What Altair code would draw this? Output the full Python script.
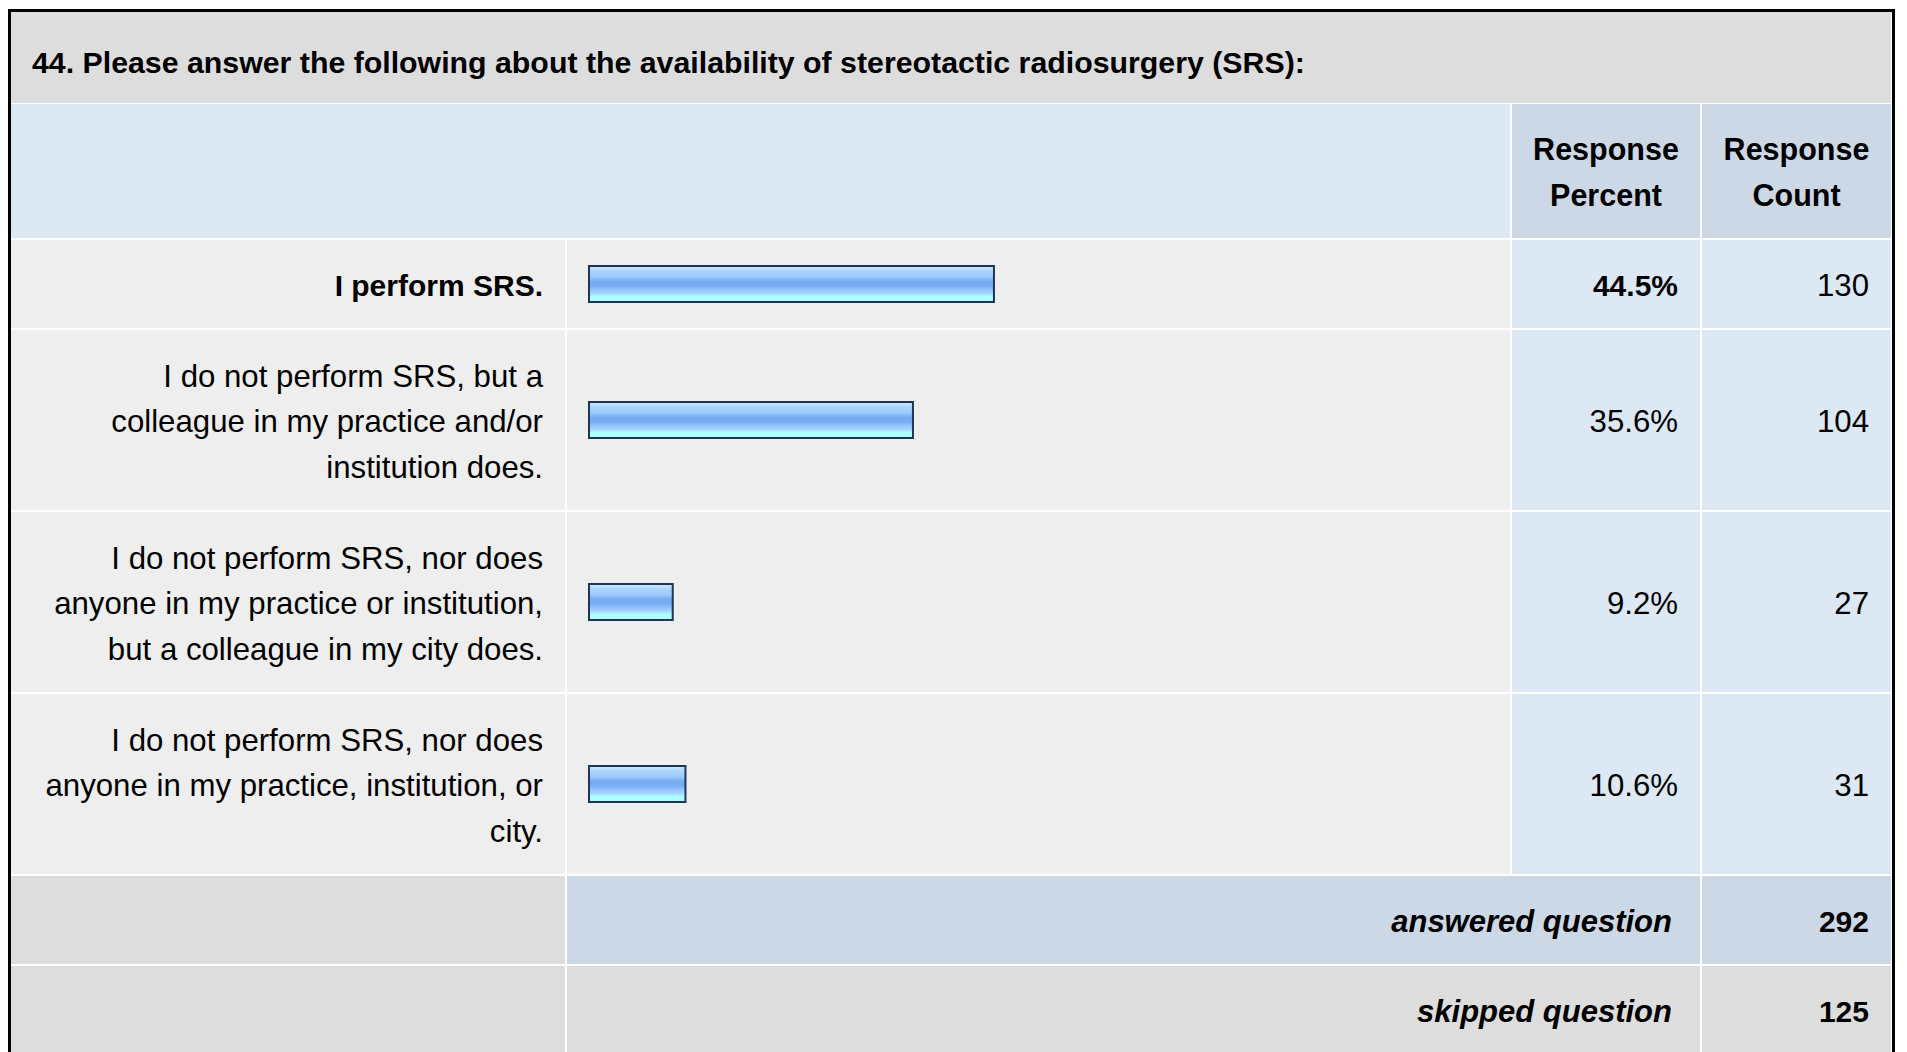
import altair as alt
import pandas as pd

# ---------------- data ----------------
TITLE = "44. Please answer the following about the availability of stereotactic radiosurgery (SRS):"
HEADER_LABELS = [["Response", "Percent"], ["Response", "Count"]]
ANSWER_LINES = [
    ["I perform SRS."],
    ["I do not perform SRS, but a", "colleague in my practice and/or", "institution does."],
    ["I do not perform SRS, nor does", "anyone in my practice or institution,", "but a colleague in my city does."],
    ["I do not perform SRS, nor does", "anyone in my practice, institution, or", "city."],
]
PERCENTS = [44.5, 35.6, 9.2, 10.6]
COUNTS = [130, 104, 27, 31]
SUMMARY_LABELS = ["answered question", "skipped question"]
SUMMARY_COUNTS = [292, 125]

# ---------------- layout / style ----------------
W, H = 1891, 1044
FONT = "Liberation Sans"
FS = 31.2          # regular body text
FS_B = 30          # bold body text
FS_BI = 31         # bold italic summary text
FS_HEAD = 30.5
TITLE_FS = 30.3
LINE_H = 46
TEXT_LH = 45.5
ROW_PAD = 21
BORDER = 3
TOP = 1
GAP = 2
COL_W = [554, 943, 188, 189]
TITLE_H = 91
BAR_H = 36
BAR_PAD = 21
BAR_FULL = 910          # pixels spanned by 100 %
PAD_R = 22
MID_SHIFT = 3

BG_TITLE = "#dddddd"
BG_HEAD = "#dde8f5"
BG_HEAD_DARK = "#ccd8e6"
BG_ROW = "#eeeeee"
BG_VAL = "#dde8f5"
BG_SUM = "#ccd8e6"
BAR_STROKE = "#1d3557"

# columns
x_edges = []
x = BORDER
for w in COL_W:
    x_edges.append((x, x + w))
    x += w + GAP
TABLE_R = x_edges[-1][1]
c0, c1, c2, c3 = x_edges

# rows
y = TOP + BORDER
title_y = (y, y + TITLE_H)
y += TITLE_H + 1
head_h = 2 * ROW_PAD + LINE_H * 2
head_y = (y, y + head_h)
y += head_h + GAP
ans_y = []
for lines in ANSWER_LINES:
    h = 2 * ROW_PAD + LINE_H * len(lines)
    ans_y.append((y, y + h))
    y += h + GAP
sum_y = []
for _ in SUMMARY_LABELS:
    h = 2 * ROW_PAD + LINE_H
    sum_y.append((y, y + h))
    y += h + GAP

# ---------------- cell table ----------------
cells = []


def add(xa, xb, yy, c):
    cells.append(dict(x0=xa, x1=xb, y0=yy[0], y1=yy[1], fill=c))


add(c0[0], c3[1], title_y, BG_TITLE)
add(c0[0], c1[1], head_y, BG_HEAD)
add(c2[0], c2[1], head_y, BG_HEAD_DARK)
add(c3[0], c3[1], head_y, BG_HEAD_DARK)
for yy in ans_y:
    add(c0[0], c0[1], yy, BG_ROW)
    add(c1[0], c1[1], yy, BG_ROW)
    add(c2[0], c2[1], yy, BG_VAL)
    add(c3[0], c3[1], yy, BG_VAL)
for i, yy in enumerate(sum_y):
    mid = BG_SUM if i == 0 else BG_TITLE
    add(c0[0], c0[1], yy, BG_TITLE)
    add(c1[0], c2[1], yy, mid)
    add(c3[0], c3[1], yy, mid)
cells_df = pd.DataFrame(cells)

XPX = alt.Scale(domain=[0, W], range=[0, W], nice=False, zero=False)
YPX = alt.Scale(domain=[0, H], range=[0, H], nice=False, zero=False)

frame_df = pd.DataFrame([
    dict(x0=0, x1=TABLE_R + 4, y0=TOP, y1=H + 60, fill="#000000"),
    dict(x0=BORDER, x1=TABLE_R + 1, y0=TOP + BORDER, y1=H + 60, fill="#ffffff"),
])

frame = alt.Chart(frame_df).mark_rect().encode(
    x=alt.X("x0:Q", scale=XPX, axis=None),
    x2="x1:Q",
    y=alt.Y("y0:Q", scale=YPX, axis=None),
    y2="y1:Q",
    fill=alt.Fill("fill:N", scale=None),
)

cell_layer = alt.Chart(cells_df).mark_rect().encode(
    x=alt.X("x0:Q", scale=XPX, axis=None),
    x2="x1:Q",
    y=alt.Y("y0:Q", scale=YPX, axis=None),
    y2="y1:Q",
    fill=alt.Fill("fill:N", scale=None),
)

# ---------------- bars ----------------
bars_df = pd.DataFrame({
    "pct": PERCENTS,
    "y0": [(a + b) / 2 - BAR_H / 2 for a, b in ans_y],
    "y1": [(a + b) / 2 + BAR_H / 2 for a, b in ans_y],
})
grad = alt.Gradient(
    gradient="linear", x1=0, x2=0, y1=0, y2=1,
    stops=[
        alt.GradientStop(color="#d2e9ff", offset=0.0),
        alt.GradientStop(color="#aad4ff", offset=0.15),
        alt.GradientStop(color="#9ccafd", offset=0.3),
        alt.GradientStop(color="#78acf2", offset=0.42),
        alt.GradientStop(color="#78acf2", offset=0.56),
        alt.GradientStop(color="#8ec1fd", offset=0.64),
        alt.GradientStop(color="#a6d4ff", offset=0.76),
        alt.GradientStop(color="#adffff", offset=0.84),
        alt.GradientStop(color="#adffff", offset=1.0),
    ],
)
bar_x0 = c1[0] + BAR_PAD + 1
bars = alt.Chart(bars_df).mark_rect(fill=grad, stroke=BAR_STROKE, strokeWidth=2).encode(
    x=alt.X("pct:Q", scale=alt.Scale(domain=[0, 100], range=[bar_x0, bar_x0 + BAR_FULL], nice=False), axis=None),
    x2=alt.datum(0),
    y=alt.Y("y0:Q", scale=YPX, axis=None),
    y2="y1:Q",
)


# ---------------- text ----------------
def first_line_y(yy, n):
    return (yy[0] + yy[1]) / 2 - (n - 1) * TEXT_LH / 2 + MID_SHIFT


title_df = pd.DataFrame({"t": [TITLE], "y": [title_y[0] + 60.5]})
title = alt.Chart(title_df).mark_text(
    align="left", baseline="alphabetic", font=FONT, fontSize=TITLE_FS, fontWeight="bold", color="#000"
).encode(x=alt.value(c0[0] + 21), y=alt.Y("y:Q", scale=YPX, axis=None), text="t:N")

head_df = pd.DataFrame({
    "t": ["\n".join(h) for h in HEADER_LABELS],
    "x": [(c2[0] + c2[1]) / 2, (c3[0] + c3[1]) / 2],
    "y": [first_line_y(head_y, 2)] * 2,
})
headers = alt.Chart(head_df).mark_text(
    align="center", baseline="middle", font=FONT, fontSize=FS_HEAD, fontWeight="bold",
    lineBreak="\n", lineHeight=TEXT_LH, color="#000"
).encode(x=alt.X("x:Q", scale=XPX, axis=None), y=alt.Y("y:Q", scale=YPX, axis=None), text="t:N")

top_idx = PERCENTS.index(max(PERCENTS))
lab_df = pd.DataFrame({
    "t": ["\n".join(l) for l in ANSWER_LINES],
    "y": [first_line_y(yy, len(l)) for yy, l in zip(ans_y, ANSWER_LINES)],
    "ymid": [first_line_y(yy, 1) for yy in ans_y],
    "bold": [i == top_idx for i in range(len(ANSWER_LINES))],
    "pct": [f"{p:.1f}%" for p in PERCENTS],
    "cnt": [str(c) for c in COUNTS],
})


def txt(df, field, yfield, xpos, weight, size, style="normal", flt=None):
    ch = alt.Chart(df)
    if flt is not None:
        ch = ch.transform_filter(flt)
    return ch.mark_text(
        align="right", baseline="middle", font=FONT, fontSize=size, fontWeight=weight,
        fontStyle=style, lineBreak="\n", lineHeight=TEXT_LH, color="#000"
    ).encode(x=alt.value(xpos), y=alt.Y(f"{yfield}:Q", scale=YPX, axis=None), text=f"{field}:N")


lab_x = c0[1] - PAD_R
pct_x = c2[1] - PAD_R
cnt_x = c3[1] - PAD_R
labels_b = txt(lab_df, "t", "y", lab_x, "bold", FS_B, flt="datum.bold")
labels_n = txt(lab_df, "t", "y", lab_x, "normal", FS, flt="!datum.bold")
pct_b = txt(lab_df, "pct", "ymid", pct_x, "bold", FS_B, flt="datum.bold")
pct_n = txt(lab_df, "pct", "ymid", pct_x, "normal", FS, flt="!datum.bold")
cnt_t = txt(lab_df, "cnt", "ymid", cnt_x, "normal", FS)

sum_df = pd.DataFrame({
    "t": SUMMARY_LABELS,
    "cnt": [str(c) for c in SUMMARY_COUNTS],
    "y": [first_line_y(yy, 1) for yy in sum_y],
})
sum_lab = txt(sum_df, "t", "y", c2[1] - 28, "bold", FS_BI, style="italic")
sum_cnt = txt(sum_df, "cnt", "y", cnt_x, "bold", FS_B)

chart = alt.layer(
    frame, cell_layer, bars, title, headers,
    labels_b, labels_n, pct_b, pct_n, cnt_t, sum_lab, sum_cnt
).resolve_scale(x="independent").properties(
    width=W, height=H, padding=0, autosize="none"
).configure_view(stroke=None)

chart.save("out.html", embed_options={"renderer": "svg", "actions": False})
